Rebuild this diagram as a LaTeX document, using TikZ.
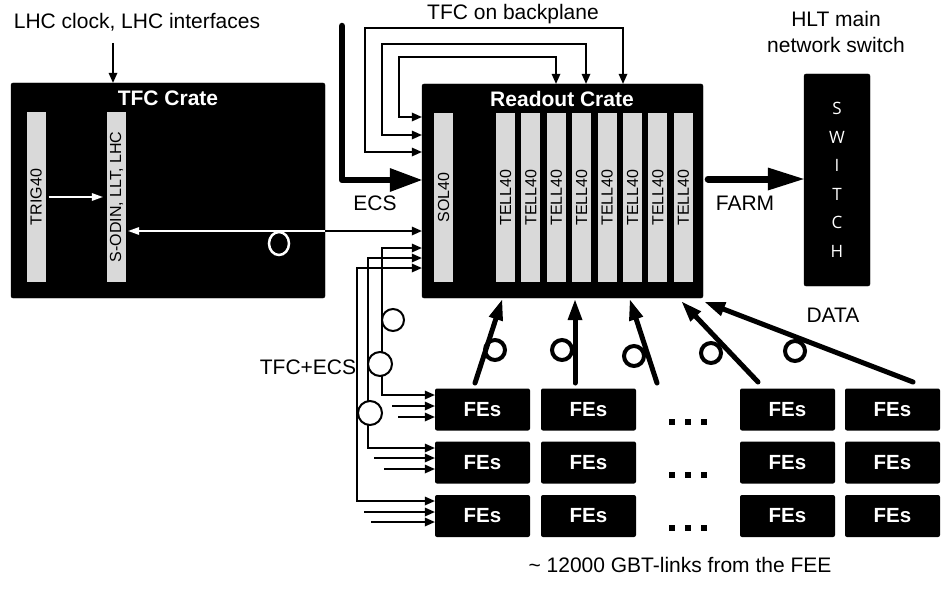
\documentclass[tikz,border=0pt]{standalone}
\usepackage{graphicx}
\usepackage{fontspec}
\setmainfont{Liberation Sans}
\newfontfamily\osfont{Open Sans}
\usetikzlibrary{arrows.meta,calc}
\definecolor{barg}{RGB}{217,217,217}
\begin{document}
\begin{tikzpicture}[x=1pt,y=-1pt,
  crate/.style={fill=black, draw=black, rounded corners=2pt, inner sep=0pt},
  bar/.style={fill=barg, draw=none, minimum width=19pt, minimum height=170pt, inner sep=0pt, font=\fontsize{16}{18}\selectfont},
  title/.style={text=white, font=\bfseries\fontsize{21}{23}\selectfont, inner sep=0pt},
  fe/.style={fill=black, rounded corners=2pt, minimum width=95pt, minimum height=42pt, inner sep=0pt, text=white, font=\bfseries\fontsize{20.5}{22}\selectfont},
  lab/.style={font=\fontsize{21}{23}\selectfont, inner sep=0pt},
  thinarr/.style={line width=2pt, -{Triangle[length=10pt,width=9pt,line width=0pt]}},
  botharr/.style={line width=2pt, {Triangle[length=10pt,width=9pt,line width=0pt]}-{Triangle[length=10pt,width=9pt,line width=0pt]}},
  whitearr/.style={white, line width=2pt, -{Triangle[length=11pt,width=8pt,line width=0pt]}},
  bigarr/.style={line width=6.5pt, line cap=round, line join=round, -{Triangle[length=32pt,width=24pt,line width=0pt]}},
  dataarr/.style={line width=5pt, line cap=round, -{Triangle[length=20pt,width=15pt,line width=0pt]}},
  loopc/.style={line width=4pt},
  fanc/.style={line width=2pt, fill=white}
]
\useasboundingbox (0,0) rectangle (941,591);

% ---------- TFC crate ----------
\node[lab] (lhc) at (137,22) {LHC clock, LHC interfaces};
\node[crate, minimum width=314pt, minimum height=215pt] (tfc) at (168,190.5) {};
\node[title] (tfct) at (168,98) {TFC Crate};
\node[bar] (trig) at (36,197) {\rotatebox{90}{TRIG40}};
\node[bar] (sodin) at (116.5,197) {\rotatebox{90}{S-ODIN, LLT, LHC}};
\coordinate (lhcsrc) at (113,43);
\draw[thinarr] (lhcsrc) -- (lhcsrc |- tfc.north);
\draw[whitearr, shorten <=3pt, shorten >=4pt] (trig.east |- 0,197) -- (sodin.west |- 0,197);
\draw[whitearr, shorten >=2pt] (tfc.east |- 0,231) -- (sodin.east |- 0,231);
\draw[white, line width=2.5pt] (279,243.5) ellipse (10pt and 11.5pt);

% ---------- Readout crate ----------
\node[crate, minimum width=281pt, minimum height=214pt] (rc) at (562.5,191) {};
\node[title] (rct) at (562,99) {Readout Crate};
\node[bar, minimum height=169pt] (sol) at (443.5,197.5) {\rotatebox{90}{SOL40}};
\foreach \i in {0,...,7}
  \node[bar, minimum height=169pt] (t\i) at ({505.5+25.4*\i},197.5) {\rotatebox{90}{TELL40}};

\draw[thinarr] (tfc.east |- 0,231) -- (rc.west |- 0,231);

% TFC on backplane
\node[lab] (bp) at (513,14) {TFC on backplane};
\draw[botharr] (rc.north -| 623,0) |- (365,28) |- (rc.west |- 0,152);
\draw[botharr] (rc.north -| 586,0) |- (382,44) |- (rc.west |- 0,135);
\draw[botharr] (rc.north -| 556,0) |- (399,57) |- (rc.west |- 0,117);

% ECS
\coordinate (ecssrc) at (342,26);
\draw[bigarr] (ecssrc) |- (rc.west |- 0,180);
\node[lab] (ecs) at (375,203) {ECS};

% ---------- Switch ----------
\node[lab, align=center, font=\fontsize{21}{26}\selectfont] (hlt) at (836,32) {HLT main\\network switch};
\node[crate, minimum width=66pt, minimum height=212pt, text=white, align=center,
      font=\osfont\fontsize{17}{28.5}\selectfont] (sw) at (837,180) {S\\W\\I\\T\\C\\H};
\draw[bigarr, line width=7pt, -{Triangle[length=36pt,width=23pt,line width=0pt]}, shorten <=5pt]
  (rc.east |- 0,179) -- (sw.west |- 0,179);
\node[lab] (farm) at (745,203) {FARM};

% ---------- FEs ----------
\foreach \r/\y in {1/409.5,2/462.5,3/516}
  \foreach \c/\x in {1/482.5,2/588.5,3/787.5,4/892.5}
    \node[fe] (fe\r\c) at (\x,\y) {FEs};
\foreach \y in {422,475,528}
  \foreach \x in {672,688,704}
    \fill ({\x-3},{\y-3}) rectangle ++(6,6);

% fan-out TFC+ECS
\draw[botharr] (rc.west |- 0,248) -| (382,395) -- (fe11.west |- 0,395);
\draw[botharr] (rc.west |- 0,258) -| (368,448) -- (fe21.west |- 0,448);
\draw[botharr] (rc.west |- 0,268) -| (357,501) -- (fe31.west |- 0,501);
\draw[fanc] (393,320) circle (11pt);
\draw[fanc] (380,364) circle (12pt);
\draw[fanc] (370,413) circle (12pt);
\coordinate (s1a) at (392,406); \coordinate (s1b) at (398,417);
\coordinate (s2a) at (374,458); \coordinate (s2b) at (384,469);
\coordinate (s3a) at (364,512); \coordinate (s3b) at (371,522);
\draw[thinarr] (s1a) -- (fe11.west |- s1a);
\draw[thinarr] (s1b) -- (fe11.west |- s1b);
\draw[thinarr] (s2a) -- (fe21.west |- s2a);
\draw[thinarr] (s2b) -- (fe21.west |- s2b);
\draw[thinarr] (s3a) -- (fe31.west |- s3a);
\draw[thinarr] (s3b) -- (fe31.west |- s3b);
\node[lab] (tfcecs) at (308,367) {TFC+ECS};

% ---------- DATA links ----------
\coordinate (d1t) at (475,383); \coordinate (d1h) at (502,300);
\coordinate (d2t) at (575,383); \coordinate (d2h) at (575,300);
\coordinate (d3t) at (657,383); \coordinate (d3h) at (630,300);
\coordinate (d4t) at (758,382); \coordinate (d4h) at (682,302);
\coordinate (d5t) at (913,382); \coordinate (d5h) at (705,302);
\foreach \k in {1,...,5} \draw[dataarr] (d\k t) -- (d\k h);
\draw[loopc] (495,350) circle (10pt);
\draw[loopc] (562,350) circle (10pt);
\draw[loopc] (634,356) circle (10pt);
\draw[loopc] (711,353) circle (10pt);
\draw[loopc] (795,351) circle (10pt);
\node[lab] (data) at (833,315) {DATA};

\node[lab] (gbt) at (680,565) {\textasciitilde\ 12000 GBT-links from the FEE};
\end{tikzpicture}
\end{document}
